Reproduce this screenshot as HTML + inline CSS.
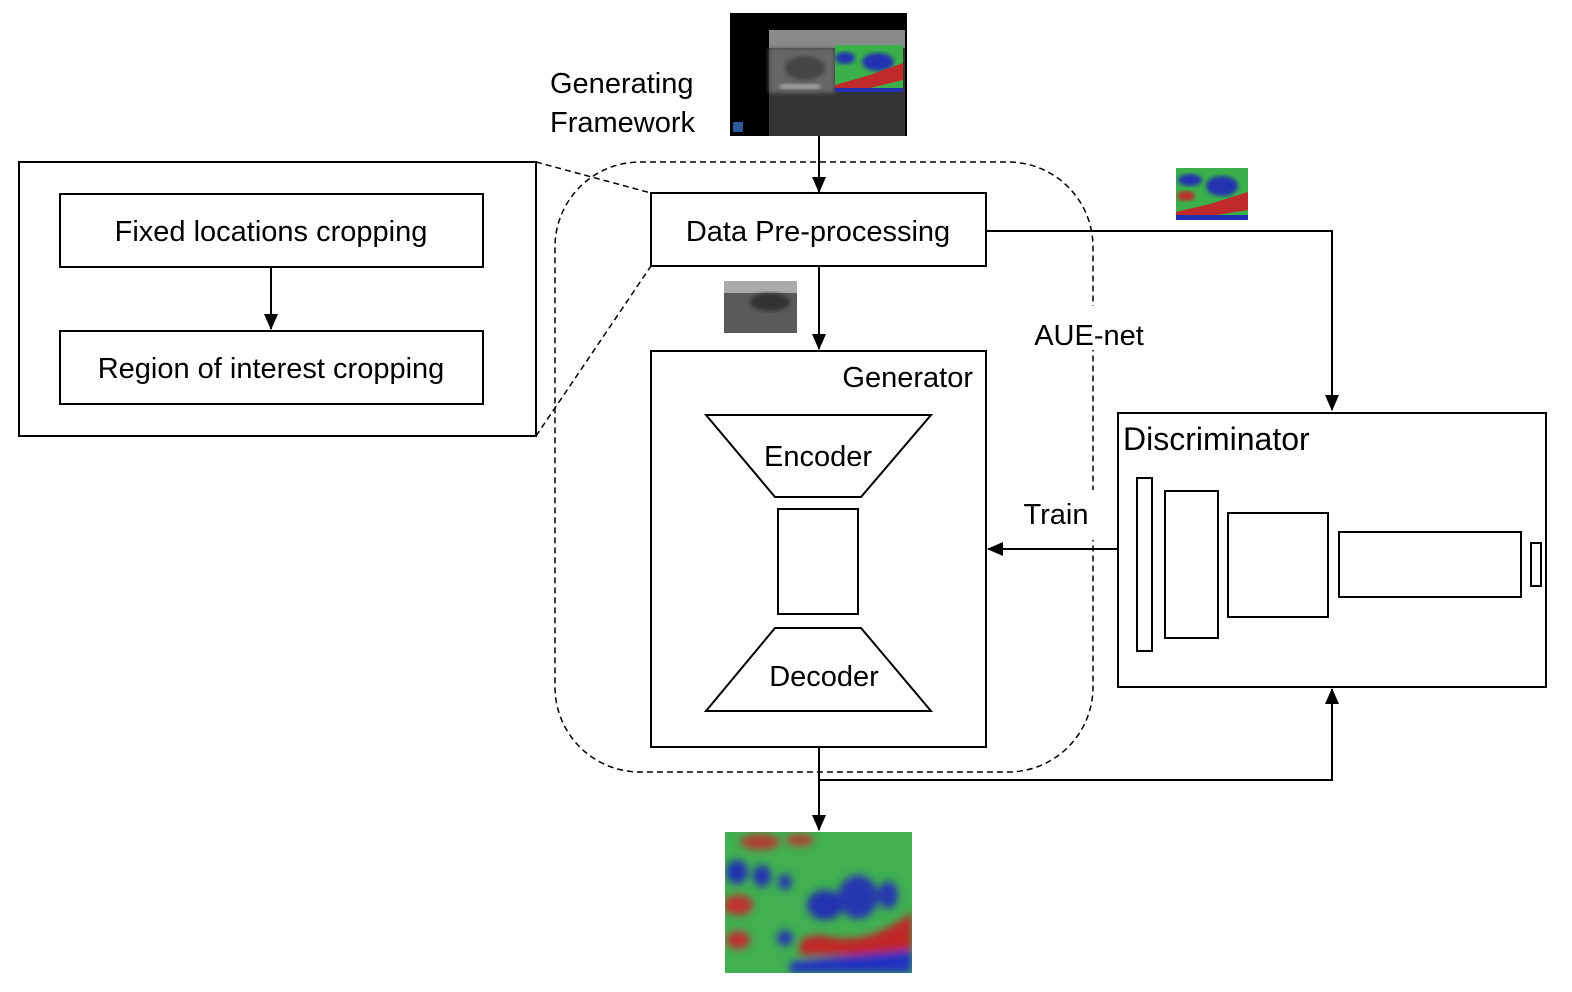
<!DOCTYPE html>
<html><head><style>
html,body{margin:0;padding:0;background:#fff;}
svg{display:block;}
text{font-family:"Liberation Sans",sans-serif;fill:#000;}
</style></head><body>
<svg width="1572" height="992" viewBox="0 0 1572 992" xmlns="http://www.w3.org/2000/svg">
<defs>
<marker id="ah" markerWidth="16" markerHeight="16" refX="15" refY="7" orient="auto" markerUnits="userSpaceOnUse">
<path d="M0,0 L16,7 L0,14 z" fill="#000"/></marker>
<filter id="bl"><feGaussianBlur stdDeviation="4"/></filter>
<filter id="bl2"><feGaussianBlur stdDeviation="2"/></filter>
<clipPath id="c1"><rect x="725" y="832" width="187" height="141"/></clipPath>
<clipPath id="c2"><rect x="1176" y="168" width="72" height="52"/></clipPath>
<clipPath id="c3"><rect x="835" y="45" width="68" height="47"/></clipPath>
</defs>

<rect x="555" y="162" width="538" height="610" rx="85" fill="none" stroke="#000" stroke-width="1.5" stroke-dasharray="6,4"/>
<line x1="536" y1="162" x2="651" y2="193" stroke="#000" stroke-width="1.5" stroke-dasharray="6,4"/>
<line x1="536" y1="436" x2="651" y2="266" stroke="#000" stroke-width="1.5" stroke-dasharray="6,4"/>
<rect x="1020" y="306" width="140" height="44" fill="#fff"/>
<rect x="1015" y="490" width="80" height="50" fill="#fff"/>

<rect x="19" y="162" width="517" height="274" fill="#fff" stroke="#000" stroke-width="2"/>
<rect x="60" y="194" width="423" height="73" fill="#fff" stroke="#000" stroke-width="2"/>
<text x="271" y="241" font-size="29" text-anchor="middle">Fixed locations cropping</text>
<line x1="271" y1="267" x2="271" y2="329" stroke="#000" stroke-width="2" marker-end="url(#ah)"/>
<rect x="60" y="331" width="423" height="73" fill="#fff" stroke="#000" stroke-width="2"/>
<text x="271" y="378" font-size="29" text-anchor="middle">Region of interest cropping</text>

<rect x="730" y="13" width="177" height="123" fill="#000"/>
<rect x="769" y="30" width="136" height="106" fill="#333"/>
<rect x="769" y="30" width="136" height="18" fill="#8a8a8a"/>
<rect x="769" y="48" width="66" height="45" fill="#666" filter="url(#bl2)"/>
<ellipse cx="805" cy="68" rx="20" ry="12" fill="#444" filter="url(#bl2)"/>
<rect x="780" y="84" width="40" height="5" fill="#aaa" filter="url(#bl2)"/>
<g clip-path="url(#c3)">
<rect x="835" y="45" width="68" height="47" fill="#3bb04a"/>
<ellipse cx="845" cy="58" rx="10" ry="6" fill="#2030b0" filter="url(#bl2)"/>
<ellipse cx="878" cy="62" rx="16" ry="9" fill="#2030b0" filter="url(#bl2)"/>
<path d="M835,85 L870,75 L903,63 L903,80 L870,88 L835,92z" fill="#c02a2a"/>
<rect x="835" y="88" width="68" height="4" fill="#2030b0"/>
</g>
<rect x="733" y="122" width="10" height="10" fill="#2a5a9a"/>
<text x="550" y="93" font-size="29">Generating</text>
<text x="550" y="132" font-size="29">Framework</text>
<line x1="819" y1="136" x2="819" y2="192" stroke="#000" stroke-width="2" marker-end="url(#ah)"/>

<rect x="651" y="193" width="335" height="73" fill="#fff" stroke="#000" stroke-width="2"/>
<text x="818" y="241" font-size="29" text-anchor="middle">Data Pre-processing</text>
<rect x="724" y="281" width="73" height="52" fill="#5a5a5a"/>
<rect x="724" y="281" width="73" height="12" fill="#aaa"/>
<ellipse cx="770" cy="302" rx="20" ry="9" fill="#333" filter="url(#bl2)"/>
<line x1="819" y1="266" x2="819" y2="349" stroke="#000" stroke-width="2" marker-end="url(#ah)"/>
<polyline points="986,231 1332,231 1332,410" fill="none" stroke="#000" stroke-width="2" marker-end="url(#ah)"/>
<g clip-path="url(#c2)">
<rect x="1176" y="168" width="72" height="52" fill="#3bb04a"/>
<ellipse cx="1190" cy="180" rx="12" ry="6" fill="#2030b0" filter="url(#bl2)"/>
<ellipse cx="1222" cy="186" rx="16" ry="10" fill="#2030b0" filter="url(#bl2)"/>
<ellipse cx="1186" cy="196" rx="9" ry="5" fill="#c02a2a" filter="url(#bl2)"/>
<path d="M1176,212 L1210,204 L1248,192 L1248,210 L1210,216 L1176,220z" fill="#c02a2a"/>
<rect x="1176" y="215" width="72" height="5" fill="#2030b0"/>
</g>
<text x="1089" y="345" font-size="29" text-anchor="middle">AUE-net</text>

<rect x="651" y="351" width="335" height="396" fill="#fff" stroke="#000" stroke-width="2"/>
<text x="973" y="387" font-size="29" text-anchor="end">Generator</text>
<polygon points="706,415 931,415 861,497 775,497" fill="#fff" stroke="#000" stroke-width="2"/>
<text x="818" y="466" font-size="29" text-anchor="middle">Encoder</text>
<rect x="778" y="509" width="80" height="105" fill="#fff" stroke="#000" stroke-width="2"/>
<polygon points="775,628 861,628 931,711 706,711" fill="#fff" stroke="#000" stroke-width="2"/>
<text x="824" y="686" font-size="29" text-anchor="middle">Decoder</text>

<line x1="1118" y1="549" x2="988" y2="549" stroke="#000" stroke-width="2" marker-end="url(#ah)"/>
<text x="1056" y="524" font-size="29" text-anchor="middle">Train</text>

<rect x="1118" y="413" width="428" height="274" fill="#fff" stroke="#000" stroke-width="2"/>
<text x="1123" y="450" font-size="32">Discriminator</text>
<rect x="1137" y="478" width="15" height="173" fill="#fff" stroke="#000" stroke-width="2"/>
<rect x="1165" y="491" width="53" height="147" fill="#fff" stroke="#000" stroke-width="2"/>
<rect x="1228" y="513" width="100" height="104" fill="#fff" stroke="#000" stroke-width="2"/>
<rect x="1339" y="532" width="182" height="65" fill="#fff" stroke="#000" stroke-width="2"/>
<rect x="1531" y="543" width="10" height="43" fill="#fff" stroke="#000" stroke-width="2"/>

<line x1="819" y1="747" x2="819" y2="830" stroke="#000" stroke-width="2" marker-end="url(#ah)"/>
<polyline points="819,780 1332,780 1332,689" fill="none" stroke="#000" stroke-width="2" marker-end="url(#ah)"/>
<g clip-path="url(#c1)">
<rect x="725" y="832" width="187" height="141" fill="#40b050"/>
<g filter="url(#bl)">
<ellipse cx="760" cy="842" rx="20" ry="8" fill="#b04030"/>
<ellipse cx="800" cy="840" rx="14" ry="6" fill="#b04030"/>
<ellipse cx="737" cy="872" rx="11" ry="12" fill="#2030b0"/>
<ellipse cx="762" cy="876" rx="9" ry="11" fill="#2030b0"/>
<ellipse cx="785" cy="882" rx="7" ry="8" fill="#2838b0"/>
<ellipse cx="825" cy="905" rx="18" ry="15" fill="#2030b0"/>
<ellipse cx="858" cy="897" rx="20" ry="22" fill="#2838b0"/>
<ellipse cx="888" cy="895" rx="10" ry="14" fill="#2838b0"/>
<ellipse cx="738" cy="905" rx="15" ry="10" fill="#c03030"/>
<ellipse cx="738" cy="940" rx="12" ry="9" fill="#c03030"/>
<ellipse cx="785" cy="938" rx="8" ry="8" fill="#2838b0"/>
<path d="M800,955 Q795,930 830,937 Q870,945 912,912 L912,955z" fill="#c02828"/>
<path d="M790,962 Q850,955 912,950 L912,973 L790,973z" fill="#2030c0"/>
</g>
</g>
</svg>
</body></html>
